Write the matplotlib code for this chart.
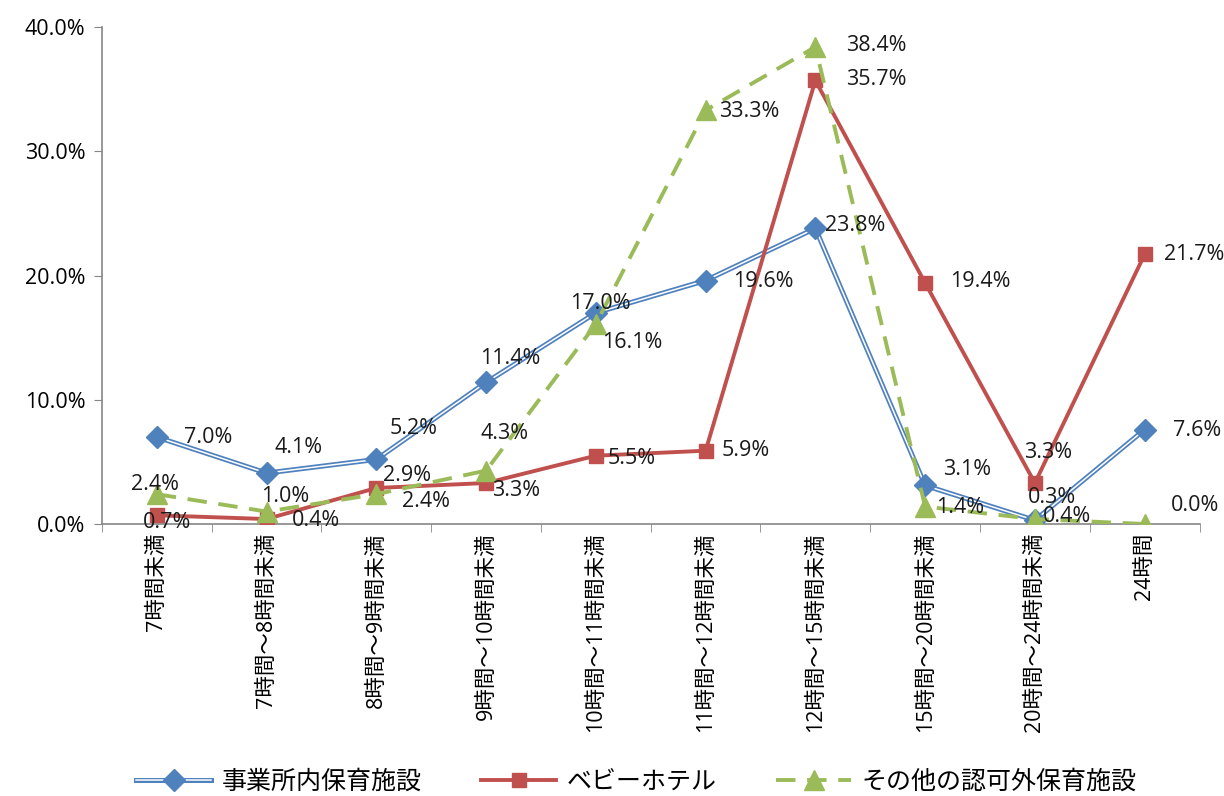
import matplotlib.pyplot as plt
from matplotlib.legend_handler import HandlerTuple
from matplotlib.ticker import FuncFormatter, FixedLocator

# 数字は Open Sans, 日本語は Noto Sans CJK JP で描く
plt.rcParams['font.family'] = ['Open Sans', 'Noto Sans CJK JP', 'DejaVu Sans']

# 保育時間の区分
categories = ['7時間未満', '7時間～8時間未満', '8時間～9時間未満', '9時間～10時間未満',
              '10時間～11時間未満', '11時間～12時間未満', '12時間～15時間未満',
              '15時間～20時間未満', '20時間～24時間未満', '24時間']

# 施設種別ごとの割合 (%)
jigyosho = [7.0, 4.1, 5.2, 11.4, 17.0, 19.6, 23.8, 3.1, 0.3, 7.6]
baby_hotel = [0.7, 0.4, 2.9, 3.3, 5.5, 5.9, 35.7, 19.4, 3.3, 21.7]
sonota = [2.4, 1.0, 2.4, 4.3, 16.1, 33.3, 38.4, 1.4, 0.4, 0.0]

series_names = ['事業所内保育施設', 'ベビーホテル', 'その他の認可外保育施設']

# データラベルの位置 (点からのずれ, ピクセル)
off_blue = [(51, 0), (32, 26), (37, 31), (24, 24), (4, 9), (58, -1), (40, 3), (42, 16), (17, 23), (52, -1)]
off_red = [(10, -7), (49, -1), (31, 12), (30, -7), (36, -3), (40, 0), (61, 1), (55, 1), (13, 31), (50, 0)]
off_green = [(-2, 10), (19, 15), (50, -7), (18, 37), (36, -19), (44, -1), (61, 1), (35, -1), (32, 3), (50, 19)]

BLUE = '#4F81BD'
RED = '#C0504D'
GREEN = '#9BBB59'

fig = plt.figure(figsize=(12.24, 7.96), dpi=100)
ax = fig.add_axes([0.0833, 0.3417, 0.8967, 0.6243])

x = list(range(len(categories)))

# 事業所内保育施設: 二重線
b_outer, = ax.plot(x, jigyosho, color=BLUE, lw=3.6, zorder=3)
b_inner, = ax.plot(x, jigyosho, color='white', lw=1.1, zorder=3.1)
b_mark, = ax.plot(x, jigyosho, ls='none', marker='D', ms=11, color=BLUE, zorder=3.2)

r_line, = ax.plot(x, baby_hotel, color=RED, lw=2.8, zorder=4)
r_mark, = ax.plot(x, baby_hotel, ls='none', marker='s', ms=9.5, color=RED, zorder=4.1)

g_line, = ax.plot(x, sonota, color=GREEN, lw=2.8, dashes=(5, 3), zorder=5)
g_mark, = ax.plot(x, sonota, ls='none', marker='^', ms=14, color=GREEN, zorder=5.1)

for vals, offs in [(jigyosho, off_blue), (baby_hotel, off_red), (sonota, off_green)]:
    for i, (v, (dx, dy)) in enumerate(zip(vals, offs)):
        ax.annotate(f'{v:.1f}%', (i, v), xytext=(dx, dy), textcoords='offset pixels',
                    ha='center', va='center', fontsize=15.5, color='#1a1a1a', zorder=10)

ax.set_xlim(-0.5, len(categories) - 0.5)
ax.set_ylim(0, 40)
ax.yaxis.set_major_locator(FixedLocator([0, 10, 20, 30, 40]))
ax.yaxis.set_major_formatter(FuncFormatter(lambda v, p: f'{v:.1f}%'))
ax.set_xticks(x)
ax.set_xticklabels(categories, rotation=90, fontsize=15.5)
ax.set_xticks([i + 0.5 for i in range(-1, len(categories))], minor=True)
ax.tick_params(axis='x', which='major', length=0, pad=6)
ax.tick_params(axis='x', which='minor', length=6, color='#868686', direction='out')
ax.tick_params(axis='y', length=6, color='#868686', labelsize=15.5, pad=6)

for s in ['top', 'right']:
    ax.spines[s].set_visible(False)
for s in ['left', 'bottom']:
    ax.spines[s].set_color('#868686')
    ax.spines[s].set_linewidth(1.2)

fig.legend([(b_outer, b_inner, b_mark), (r_line, r_mark), (g_line, g_mark)], series_names,
           handler_map={tuple: HandlerTuple(ndivide=1)},
           loc='center', bbox_to_anchor=(0.52, 0.017), ncol=3, frameon=False,
           fontsize=18, handlelength=3.0, columnspacing=2.4, handletextpad=0.4)

fig.savefig('out.png', dpi=100)
